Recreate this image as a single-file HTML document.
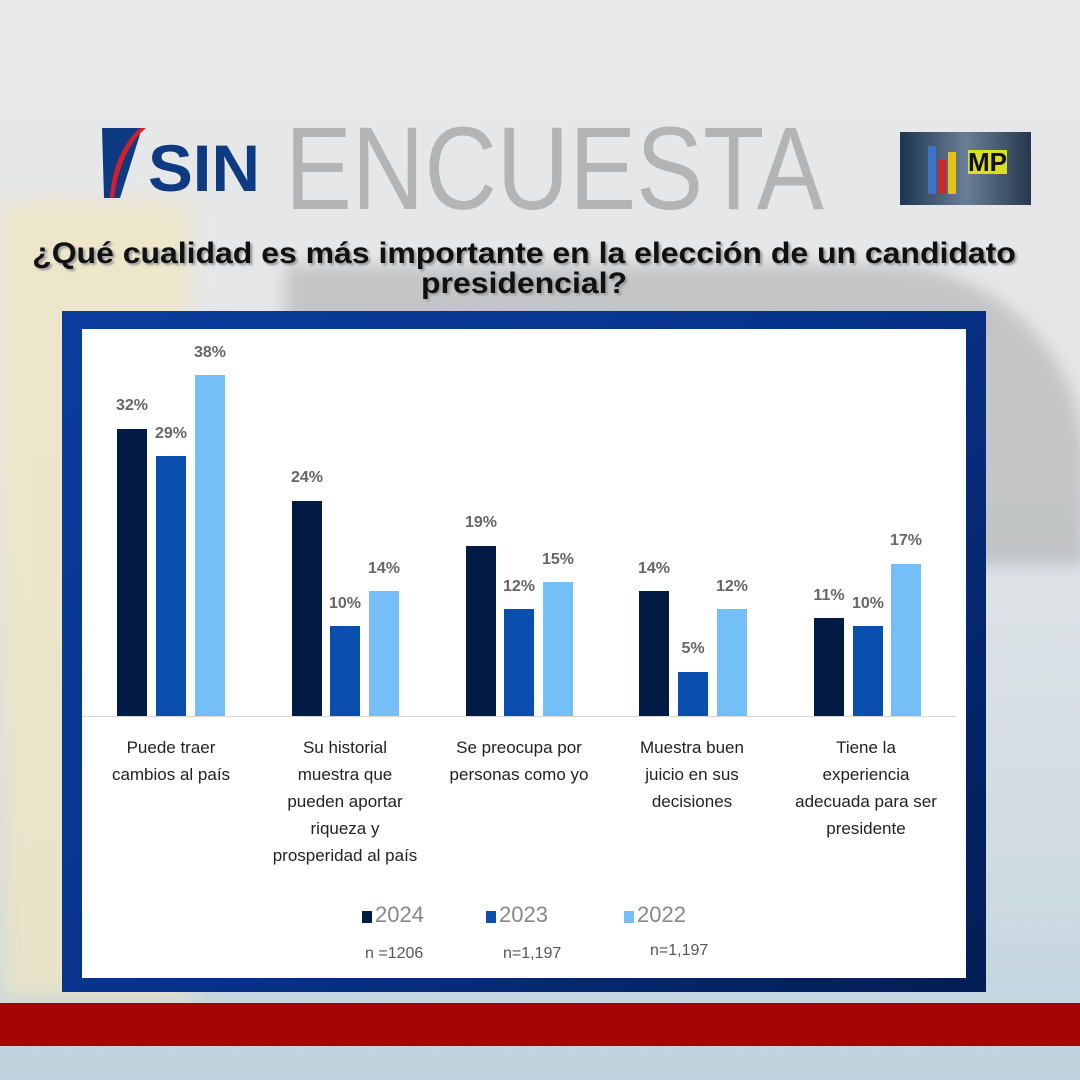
<!DOCTYPE html>
<html><head><meta charset="utf-8"><style>
*{margin:0;padding:0;box-sizing:border-box}
body{width:1080px;height:1080px;position:relative;overflow:hidden;font-family:"Liberation Sans",sans-serif;
background:linear-gradient(180deg,#e6e8ea 0%,#e4e6e8 40%,#cfdbe2 80%,#bfd3de 100%)}
.abs{position:absolute}
.bar{position:absolute;width:30px}
.c1{background:#021b45}.c2{background:#0a4fae}.c3{background:#74bff8}
.lbl{position:absolute;width:60px;text-align:center;font-size:16px;font-weight:bold;color:#666}
.cat{position:absolute;width:180px;text-align:center;font-size:17px;line-height:27px;color:#222}
</style></head><body>
<div class="abs" style="left:0;top:200px;width:190px;height:800px;background:#f0e6c4;filter:blur(12px);opacity:.8"></div>
<div class="abs" style="left:285px;top:265px;width:800px;height:300px;background:#a9aaab;filter:blur(8px);opacity:.55;border-radius:0 200px 0 0"></div>
<!-- SIN logo -->
<svg class="abs" style="left:100px;top:126px" width="165" height="75">
<path d="M2 2 L42 2 L20 72 L4 72 Z" fill="#0d3a80"/>
<path d="M14 72 C18 40 30 15 46 2 L40 2 C26 14 12 38 10 72Z" fill="#d21f2b"/>
<text x="48" y="65" font-family="Liberation Sans" font-weight="bold" font-size="66" fill="#0d3a80" textLength="112" lengthAdjust="spacingAndGlyphs">SIN</text>
</svg>
<div class="abs" style="left:285px;top:110px;font-size:118px;color:#b4b4b4;line-height:118px;transform:scaleX(0.85);transform-origin:left;white-space:nowrap">ENCUESTA</div>
<div class="abs" style="left:900px;top:132px;width:131px;height:73px;background:linear-gradient(90deg,#1d3550,#6a7f95,#25384e)">
<div class="abs" style="left:28px;top:14px;width:8px;height:48px;background:#3a73c8"></div>
<div class="abs" style="left:38px;top:28px;width:8px;height:34px;background:#c82a2a"></div>
<div class="abs" style="left:48px;top:20px;width:8px;height:42px;background:#e5c21a"></div>
<div class="abs" style="left:68px;top:18px;font-size:26px;font-weight:bold;color:#111;background:#d8e020;line-height:24px">MP</div>
</div>
<div class="abs" style="left:0;top:239px;width:1048px;text-align:center;font-size:30px;font-weight:bold;line-height:30px;color:#111;text-shadow:2px 2px 2px #999;transform:scaleX(1.065);transform-origin:524px 0">¿Qué cualidad es más importante en la elección de un candidato<br>presidencial?</div>
<!-- frame -->
<div class="abs" style="left:62px;top:311px;width:924px;height:681px;background:linear-gradient(135deg,#0a3d9e,#07328a 50%,#031d55)"></div>
<div class="abs" style="left:82px;top:329px;width:884px;height:649px;background:#fff"></div>
<div class="abs" style="left:82px;top:716px;width:874px;height:1px;background:#d8d8d8"></div>
<!-- bars -->
<div class="bar c1" style="left:117px;top:429px;height:287px"></div>
<div class="bar c2" style="left:156px;top:456px;height:260px"></div>
<div class="bar c3" style="left:195px;top:375px;height:341px"></div>
<div class="lbl" style="left:102px;top:397px">32%</div>
<div class="lbl" style="left:141px;top:425px">29%</div>
<div class="lbl" style="left:180px;top:344px">38%</div>

<div class="bar c1" style="left:292px;top:501px;height:215px"></div>
<div class="bar c2" style="left:330px;top:626px;height:90px"></div>
<div class="bar c3" style="left:369px;top:591px;height:125px"></div>
<div class="lbl" style="left:277px;top:469px">24%</div>
<div class="lbl" style="left:315px;top:595px">10%</div>
<div class="lbl" style="left:354px;top:560px">14%</div>

<div class="bar c1" style="left:466px;top:546px;height:170px"></div>
<div class="bar c2" style="left:504px;top:609px;height:107px"></div>
<div class="bar c3" style="left:543px;top:582px;height:134px"></div>
<div class="lbl" style="left:451px;top:514px">19%</div>
<div class="lbl" style="left:489px;top:578px">12%</div>
<div class="lbl" style="left:528px;top:551px">15%</div>

<div class="bar c1" style="left:639px;top:591px;height:125px"></div>
<div class="bar c2" style="left:678px;top:672px;height:44px"></div>
<div class="bar c3" style="left:717px;top:609px;height:107px"></div>
<div class="lbl" style="left:624px;top:560px">14%</div>
<div class="lbl" style="left:663px;top:640px">5%</div>
<div class="lbl" style="left:702px;top:578px">12%</div>

<div class="bar c1" style="left:814px;top:618px;height:98px"></div>
<div class="bar c2" style="left:853px;top:626px;height:90px"></div>
<div class="bar c3" style="left:891px;top:564px;height:152px"></div>
<div class="lbl" style="left:799px;top:587px">11%</div>
<div class="lbl" style="left:838px;top:595px">10%</div>
<div class="lbl" style="left:876px;top:532px">17%</div>
<!-- categories -->
<div class="cat" style="left:81px;top:734px">Puede traer<br>cambios al país</div>
<div class="cat" style="left:255px;top:734px">Su historial<br>muestra que<br>pueden aportar<br>riqueza y<br>prosperidad al país</div>
<div class="cat" style="left:429px;top:734px">Se preocupa por<br>personas como yo</div>
<div class="cat" style="left:602px;top:734px">Muestra buen<br>juicio en sus<br>decisiones</div>
<div class="cat" style="left:776px;top:734px">Tiene la<br>experiencia<br>adecuada para ser<br>presidente</div>
<!-- legend -->
<div class="abs c1" style="left:362px;top:911px;width:10px;height:12px"></div>
<div class="abs" style="left:375px;top:902px;font-size:22px;color:#888">2024</div>
<div class="abs c2" style="left:486px;top:911px;width:10px;height:12px"></div>
<div class="abs" style="left:499px;top:902px;font-size:22px;color:#888">2023</div>
<div class="abs c3" style="left:624px;top:911px;width:10px;height:12px"></div>
<div class="abs" style="left:637px;top:902px;font-size:22px;color:#888">2022</div>
<div class="abs" style="left:365px;top:945px;font-size:16px;color:#555">n =1206</div>
<div class="abs" style="left:503px;top:945px;font-size:16px;color:#555">n=1,197</div>
<div class="abs" style="left:650px;top:942px;font-size:16px;color:#555">n=1,197</div>
<!-- red band -->
<div class="abs" style="left:0;top:1003px;width:1080px;height:43px;background:#a50505"></div>
</body></html>
